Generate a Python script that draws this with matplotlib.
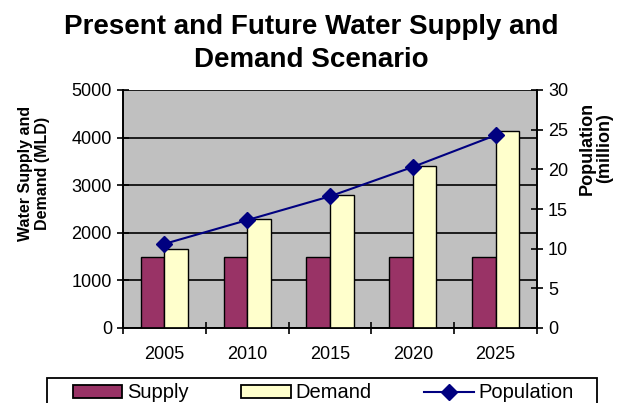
import matplotlib.pyplot as plt
import numpy as np
from matplotlib.lines import Line2D
from matplotlib.patches import Patch, Rectangle

plt.rcParams["font.family"] = ["Liberation Sans", "DejaVu Sans"]

years = ["2005", "2010", "2015", "2020", "2025"]
supply = [1500, 1500, 1500, 1500, 1500]
demand = [1670, 2280, 2800, 3400, 4140]
population = [10.6, 13.6, 16.6, 20.3, 24.3]

SUPPLY_COLOR = "#993366"
DEMAND_COLOR = "#ffffcc"
POP_COLOR = "#000080"

W, H = 622, 403
fig = plt.figure(figsize=(W / 100, H / 100), dpi=100)
ax = fig.add_axes([123 / W, 1 - 328 / H, (537 - 123) / W, (328 - 90) / H])
ax.set_facecolor("#c0c0c0")

x = np.arange(len(years))
w = 0.285
ax.bar(x - w / 2, supply, w, color=SUPPLY_COLOR, edgecolor="black", linewidth=1.0, zorder=3)
ax.bar(x + w / 2, demand, w, color=DEMAND_COLOR, edgecolor="black", linewidth=1.0, zorder=3)

ax.set_xlim(-0.5, len(years) - 0.5)
ax.set_ylim(0, 5000)
ax.set_yticks(np.arange(0, 5001, 1000))
ax.yaxis.grid(True, color="black", linewidth=1.2)
ax.set_axisbelow(True)

# category labels centred, ticks between categories
ax.set_xticks(np.arange(-0.5, len(years), 1.0))
ax.set_xticklabels([])
ax.set_xticks(x, minor=True)
ax.set_xticklabels(years, minor=True)
ax.tick_params(axis="x", which="minor", length=0, pad=13, labelsize=13)
ax.tick_params(axis="x", which="major", direction="inout", length=8, width=1.2)
ax.tick_params(axis="y", direction="inout", length=8, width=1.2, labelsize=13, pad=4)
for side in ("left", "bottom", "right"):
    ax.spines[side].set_linewidth(1.2)
ax.spines["top"].set_visible(False)

ax2 = ax.twinx()
ax2.plot(x, population, color=POP_COLOR, marker="D", markersize=8, linewidth=1.5, zorder=5)
ax2.set_ylim(0, 30)
ax2.set_yticks(np.arange(0, 31, 5))
ax2.tick_params(axis="y", direction="inout", length=8, width=1.2, labelsize=13, pad=4)
for side in ("left", "right", "bottom"):
    ax2.spines[side].set_linewidth(1.2)
ax2.spines["top"].set_visible(False)

fig.text(0.5, 1 - 14 / H, "Present and Future Water Supply and\nDemand Scenario",
         ha="center", va="top", fontsize=20, fontweight="bold", linespacing=1.35)

fig.text(34 / W, 1 - 173 / H, "Water Supply and\nDemand (MLD)", rotation=90,
         ha="center", va="center", multialignment="center", fontsize=11.5,
         fontweight="bold", linespacing=1.15)
fig.text(596 / W, 1 - 148 / H, "Population\n(million)", rotation=90,
         ha="center", va="center", multialignment="center", fontsize=13,
         fontweight="bold", linespacing=1.05)

# legend box runs off the bottom edge of the figure
fig.patches.append(Rectangle((47 / W, -0.05), (597 - 47) / W, 0.05 + 1 - 378 / H,
                             transform=fig.transFigure, facecolor="white",
                             edgecolor="black", linewidth=1.3))
handles = [
    Patch(facecolor=SUPPLY_COLOR, edgecolor="black", linewidth=1.3),
    Patch(facecolor=DEMAND_COLOR, edgecolor="black", linewidth=1.3),
    Line2D([], [], color=POP_COLOR, marker="D", markersize=8, linewidth=1.5),
]
fig.legend(handles, ["Supply", "Demand", "Population"], ncol=3,
           loc="center left", bbox_to_anchor=(73 / W, 1 - 393 / H),
           fontsize=14.5, frameon=False, handlelength=2.45, handleheight=0.6,
           handletextpad=0.25, columnspacing=2.6, borderpad=0, borderaxespad=0)

fig.savefig("out.png", dpi=100)
